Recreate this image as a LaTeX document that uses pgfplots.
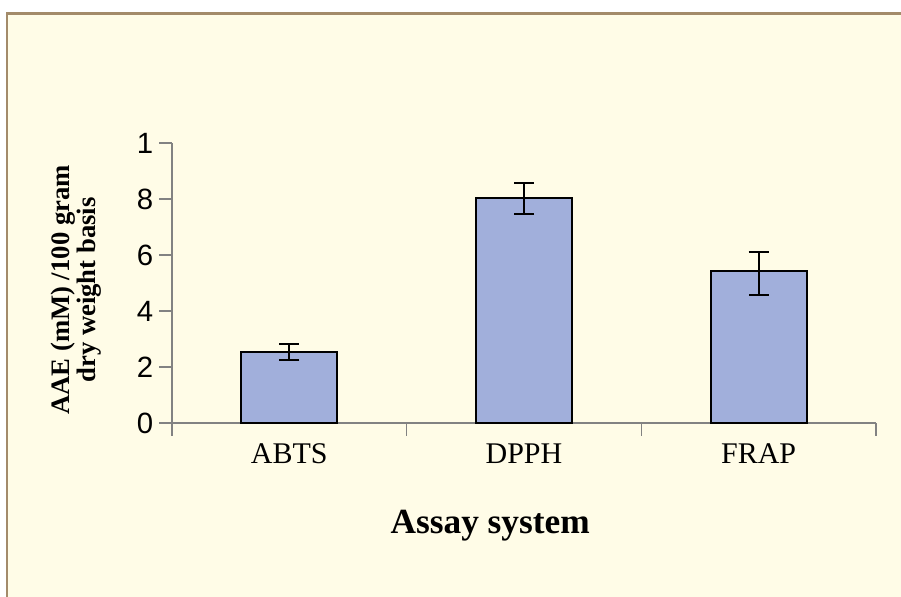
\documentclass[border=0pt]{standalone}
\usepackage{pgfplots}
\pgfplotsset{compat=1.18}
\usepackage{pgfplotstable}
\usepackage{fontspec}
\setmainfont{Liberation Serif}
\setsansfont{Liberation Sans}

\definecolor{cream}{RGB}{255,252,231}
\definecolor{frame}{RGB}{163,139,106}
\definecolor{barblue}{RGB}{161,175,219}
\definecolor{axisgray}{RGB}{130,130,130}

\pgfplotstableread{
x    y     ep    em
0.5  2.53  0.28  0.29
1.5  8.05  0.53  0.58
2.5  5.42  0.68  0.84
}\assay

\begin{document}
\begin{tikzpicture}
% panel background and frame
\fill[cream] (4.5pt,0pt) rectangle (675.75pt,438.75pt);
\draw[frame, line width=2.4pt] (4.5pt,437.6pt) -- (675.75pt,437.6pt);
\draw[frame, line width=2pt] (5.3pt,0pt) -- (5.3pt,438.75pt);

\begin{axis}[
  at={(129pt,130.5pt)}, anchor=south west,
  scale only axis,
  width=528pt, height=210pt,
  xmin=0, xmax=3, ymin=0, ymax=10,
  axis x line*=bottom, axis y line*=left,
  axis line style={axisgray, line width=0.8pt},
  tick style={axisgray, line width=0.8pt},
  tick align=outside,
  major tick length=9.5pt,
  ytick={0,2,4,6,8,10},
  yticklabels={0,2,4,6,8,1},
  yticklabel style={font=\sffamily\fontsize{22}{22}\selectfont, text=black, xshift=-1pt},
  xtick={0,1,2,3},
  x tick label as interval,
  xticklabels={ABTS,DPPH,FRAP},
  xticklabel style={font=\fontsize{22.5}{22.5}\selectfont, text=black, anchor=base, yshift=-21pt},
  xlabel={Assay system},
  ylabel={AAE (mM) /100 gram\\dry weight basis},
  every axis x label/.style={at={(rel axis cs:0.452,-0.393)}, anchor=base,
    font=\bfseries\fontsize{26.5}{26.5}\selectfont},
  every axis y label/.style={at={(rel axis cs:-0.136,0.475)}, anchor=center,
    rotate=90, align=center, font=\bfseries\fontsize{20}{19.5}\selectfont},
]
\addplot[ybar, bar width=72pt, fill=barblue, draw=black, line width=1.5pt,
  error bars/.cd, y dir=both, y explicit,
  error bar style={black, line width=1.4pt},
  error mark options={rotate=90, mark size=7.5pt, line width=1.4pt, black}]
  table[x=x, y=y, y error plus=ep, y error minus=em] {\assay};
\end{axis}

\pgfresetboundingbox
\useasboundingbox (0pt,0pt) rectangle (675.75pt,447.75pt);
\end{tikzpicture}
\end{document}
